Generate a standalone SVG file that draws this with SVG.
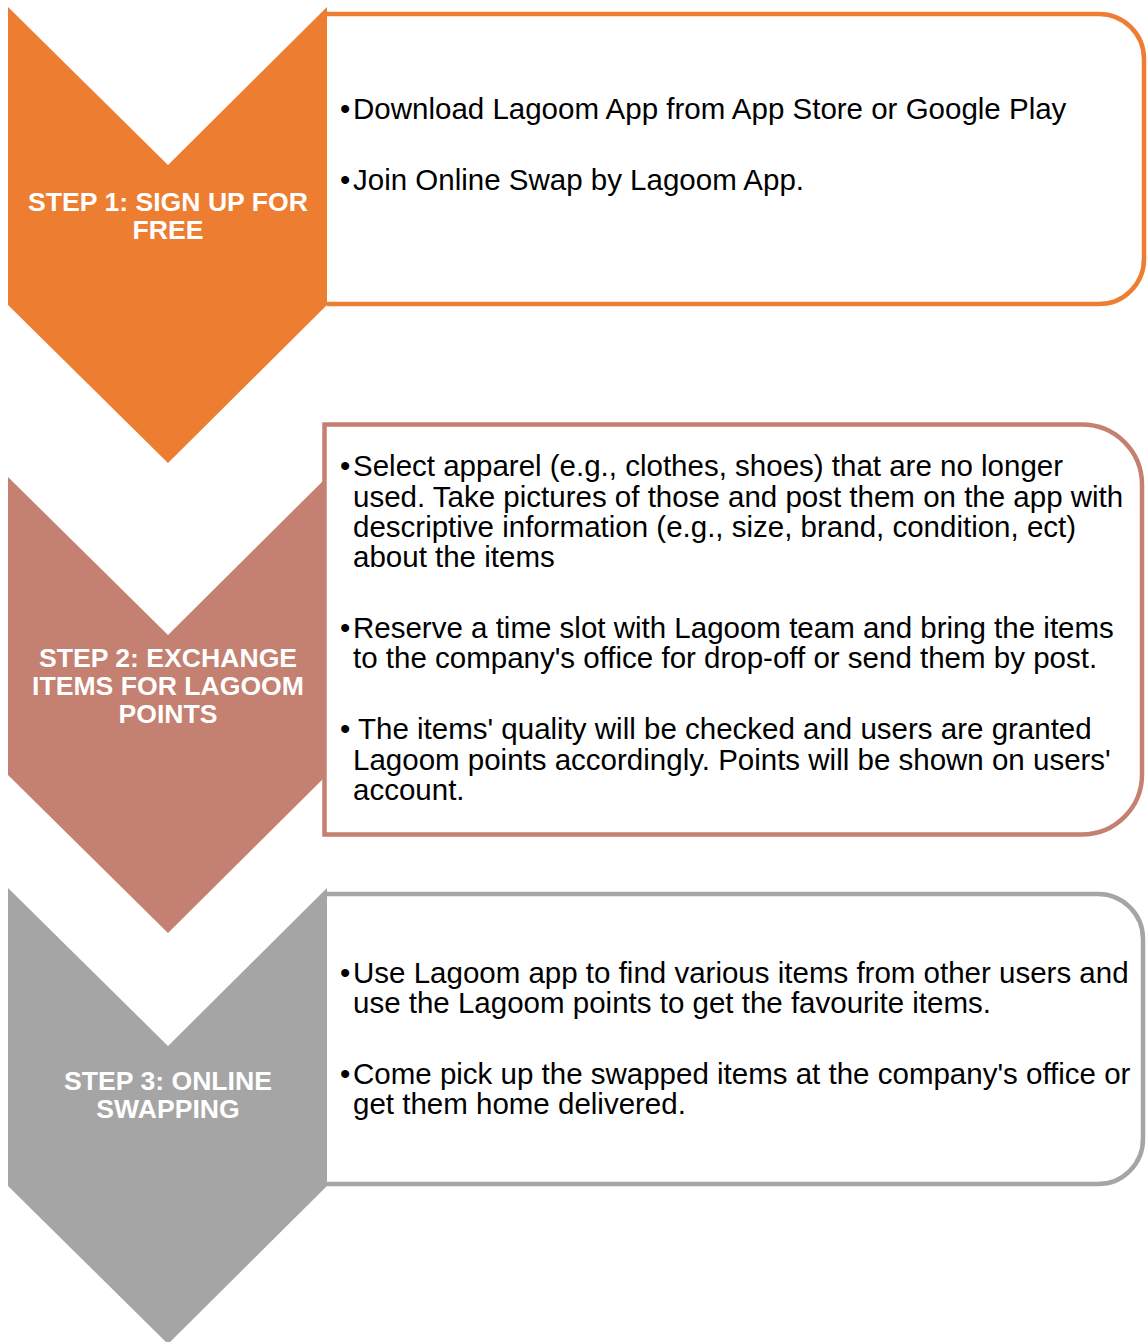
<svg xmlns="http://www.w3.org/2000/svg" width="1148" height="1342" viewBox="0 0 1148 1342">
  <style>
    .body { font-family: "Liberation Sans", Arial, sans-serif; font-size: 29.5px; fill: #000000; }
    .label { font-family: "Liberation Sans", Arial, sans-serif; font-size: 26.6px; font-weight: bold; fill: #FFFFFF; text-anchor: middle; }
    .box { fill: #FFFFFF; stroke-width: 4.5; }
  </style>
  <defs>
    <!-- chevron pointing down, top edge at y=0 -->
    <polygon id="chevron" points="8,0 168,158 327,0 327,298 168,456 8,298"/>
  </defs>
  <rect width="1148" height="1342" fill="#FFFFFF"/>

  <!-- Step 1 -->
  <g id="step1">
    <path class="box" stroke="#ED7D31" d="M327,14 H1099 A45,45 0 0 1 1144,59 V259 A45,45 0 0 1 1099,304 H327"/>
    <use href="#chevron" y="7" fill="#ED7D31"/>
    <text class="label" x="168" y="211">STEP 1: SIGN UP FOR</text>
    <text class="label" x="168" y="239">FREE</text>
    <text class="body" x="340" y="119">•</text>
    <text class="body" x="353" y="119">Download Lagoom App from App Store or Google Play</text>
    <text class="body" x="340" y="190">•</text>
    <text class="body" x="353" y="190">Join Online Swap by Lagoom App.</text>
  </g>

  <!-- Step 2 -->
  <g id="step2">
    <use href="#chevron" y="477" fill="#C48070"/>
    <path class="box" stroke="#C48070" d="M324.5,424.5 H1082 A60,60 0 0 1 1142,484.5 V774.5 A60,60 0 0 1 1082,834.5 H324.5 Z"/>
    <text class="label" x="168" y="667">STEP 2: EXCHANGE</text>
    <text class="label" x="168" y="695">ITEMS FOR LAGOOM</text>
    <text class="label" x="168" y="723">POINTS</text>
    <text class="body" x="340" y="476">•</text>
    <text class="body" x="353" y="476">Select apparel (e.g., clothes, shoes) that are no longer</text>
    <text class="body" x="353" y="507">used. Take pictures of those and post them on the app with</text>
    <text class="body" x="353" y="537">descriptive information (e.g., size, brand, condition, ect)</text>
    <text class="body" x="353" y="567">about the items</text>
    <text class="body" x="340" y="638">•</text>
    <text class="body" x="353" y="638">Reserve a time slot with Lagoom team and bring the items</text>
    <text class="body" x="353" y="668">to the company's office for drop-off or send them by post.</text>
    <text class="body" x="340" y="739">•</text>
    <text class="body" x="358" y="739">The items' quality will be checked and users are granted</text>
    <text class="body" x="353" y="770">Lagoom points accordingly. Points will be shown on users'</text>
    <text class="body" x="353" y="800">account.</text>
  </g>

  <!-- Step 3 -->
  <g id="step3">
    <path class="box" stroke="#A5A5A5" d="M327,894 H1098 A45,45 0 0 1 1143,939 V1139 A45,45 0 0 1 1098,1184 H327"/>
    <use href="#chevron" y="888" fill="#A5A5A5"/>
    <text class="label" x="168" y="1090">STEP 3: ONLINE</text>
    <text class="label" x="168" y="1118">SWAPPING</text>
    <text class="body" x="340" y="983">•</text>
    <text class="body" x="353" y="983">Use Lagoom app to find various items from other users and</text>
    <text class="body" x="353" y="1013">use the Lagoom points to get the favourite items.</text>
    <text class="body" x="340" y="1084">•</text>
    <text class="body" x="353" y="1084">Come pick up the swapped items at the company's office or</text>
    <text class="body" x="353" y="1114">get them home delivered.</text>
  </g>

  <!-- no connectors: steps are chained by the chevron shapes themselves -->
  <g id="connectors"/>
</svg>
